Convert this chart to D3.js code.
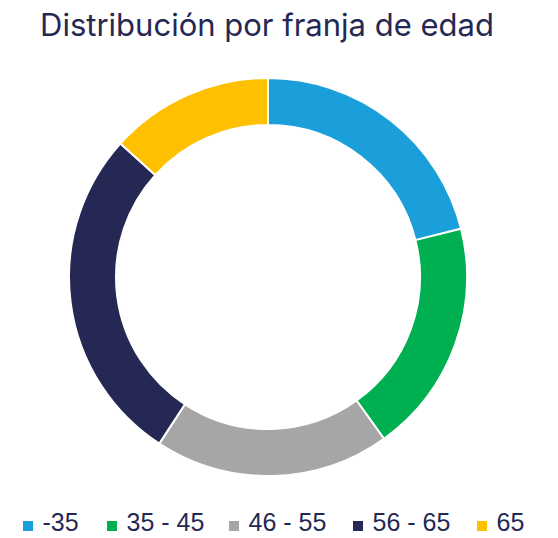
<!DOCTYPE html>
<html>
<head>
<meta charset="utf-8">
<script src="https://cdn.jsdelivr.net/npm/d3@7"></script>
<style>
  body { margin: 0; background: #fff; }
</style>
</head>
<body>
<script>
const categories = ["-35", "35 - 45", "46 - 55", "56 - 65", "65"]
const values = [21.1, 19.0, 19.1, 27.5, 13.3]
const colors = ["#1b9fda", "#00b050", "#a6a6a6", "#252854", "#ffc000"]
const title = "Distribución por franja de edad"

const w = 558
const h = 538
const cx = 268
const cy = 277
const outerR = 199
const innerR = 152

const svg = d3.select("body")
  .append("svg")
  .attr("width", w)
  .attr("height", h)

svg.append("text")
  .attr("x", 267)
  .attr("y", 36)
  .attr("text-anchor", "middle")
  .style("font-family", "Inter")
  .style("font-size", "31px")
  .style("fill", "#252854")
  .text(title)

// donut
const pie = d3.pie().sort(null).value(d => d)
const arc = d3.arc().innerRadius(innerR).outerRadius(outerR)

svg.append("g")
  .attr("transform", "translate(" + cx + "," + cy + ")")
  .selectAll("path")
  .data(pie(values))
  .enter()
  .append("path")
  .attr("d", arc)
  .attr("fill", (d, i) => colors[i])
  .attr("stroke", "#fff")
  .attr("stroke-width", 2)

// legend
const legendX = d3.scaleOrdinal()
  .domain(categories)
  .range([23, 107, 229, 353, 477])

const legend = svg.selectAll(".legend")
  .data(categories)
  .enter()
  .append("g")
  .attr("class", "legend")
  .attr("transform", d => "translate(" + legendX(d) + ",531)")

legend.append("rect")
  .attr("x", 0)
  .attr("y", -10)
  .attr("width", 10)
  .attr("height", 10)
  .attr("fill", (d, i) => colors[i])

legend.append("text")
  .attr("x", 19.5)
  .attr("y", 0)
  .style("font-family", "Liberation Sans")
  .style("font-size", "25px")
  .style("fill", "#252854")
  .text(d => d)
</script>
</body>
</html>
